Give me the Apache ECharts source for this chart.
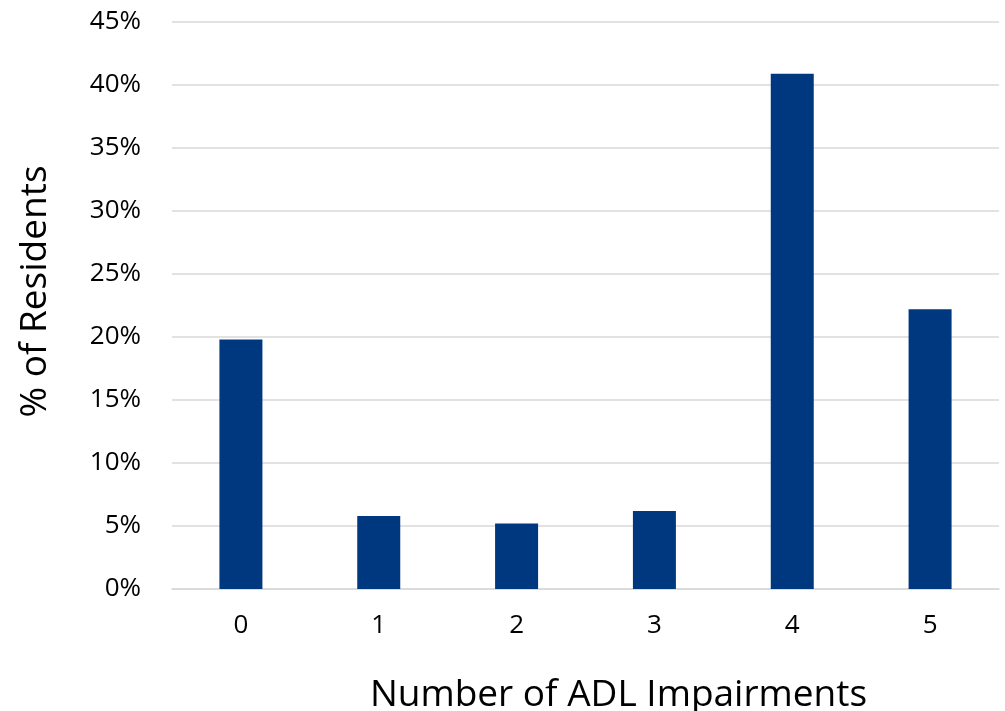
<!DOCTYPE html>
<html>
<head>
<meta charset="utf-8">
<script src="https://cdn.jsdelivr.net/npm/echarts@6/dist/echarts.min.js"></script>
<style>html,body{margin:0;padding:0;background:#fff;}#chart{width:1005px;height:711px;}</style>
</head>
<body>
<div id="chart"></div>
<script>
const categories = ['0', '1', '2', '3', '4', '5'];
const residentsPct = [19.8, 5.8, 5.2, 6.2, 40.9, 22.2];
const yTicks = [0, 5, 10, 15, 20, 25, 30, 35, 40, 45];

const chart = echarts.init(document.getElementById('chart'));
const font = '"Open Sans", "Noto Sans", sans-serif';
chart.setOption({
  animation: false,
  grid: { left: 172, right: 6, top: 22, bottom: 122, outerBoundsMode: 'none', containLabel: false },
  xAxis: {
    type: 'category',
    data: categories,
    name: 'Number of ADL Impairments',
    nameLocation: 'middle',
    nameGap: 88,
    nameTextStyle: { fontFamily: font, fontSize: 37, color: '#000', padding: [0, 0, 0, 66] },
    axisLine: { lineStyle: { color: '#d9d9d9', width: 1.5 } },
    axisTick: { show: false },
    axisLabel: { fontFamily: font, fontSize: 26, color: '#000', margin: 24 }
  },
  yAxis: {
    type: 'value',
    min: yTicks[0],
    max: yTicks[yTicks.length - 1],
    interval: 5,
    name: '% of Residents',
    nameLocation: 'middle',
    nameGap: 118,
    nameTextStyle: { fontFamily: font, fontSize: 37, color: '#000', padding: [0, 0, 0, 28] },
    axisLine: { show: false },
    axisTick: { show: false },
    splitLine: { lineStyle: { color: '#d9d9d9', width: 1.5 } },
    axisLabel: { fontFamily: font, fontSize: 26, color: '#000', margin: 31, formatter: v => v + '%' }
  },
  series: [{
    type: 'bar',
    data: residentsPct,
    barWidth: 43,
    itemStyle: { color: '#00387f' }
  }]
});
</script>
</body>
</html>
